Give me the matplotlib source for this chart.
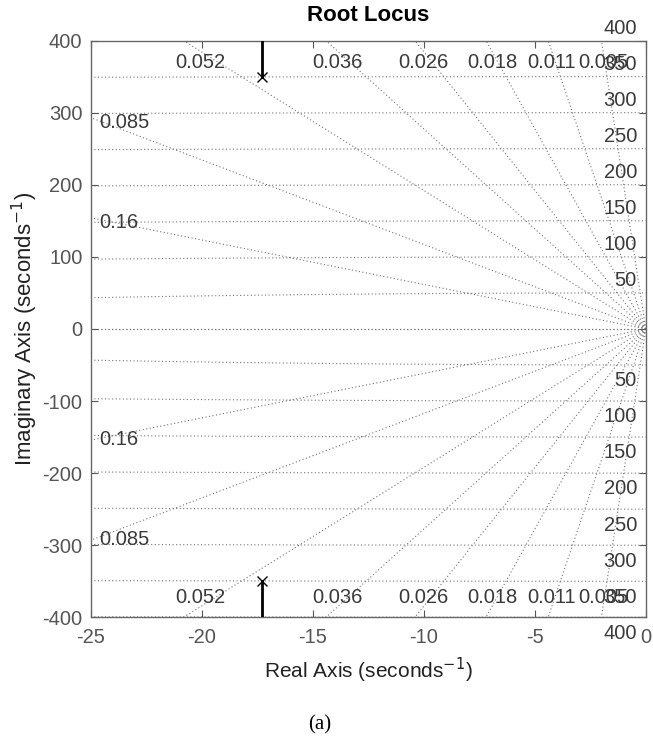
import numpy as np
import matplotlib
matplotlib.use('Agg')
import matplotlib.pyplot as plt

# sgrid values
zeta_vals = [0.005, 0.011, 0.018, 0.026, 0.036, 0.052, 0.085, 0.16]
zeta_labels = ['0.005', '0.011', '0.018', '0.026', '0.036', '0.052', '0.085', '0.16']
wn_vals = [50, 100, 150, 200, 250, 300, 350, 400]

# open-loop poles and the locus branches leaving them
pole_re = [-17.3, -17.3]
pole_im = [350, -350]
branch_re = [[-17.3, -17.3], [-17.3, -17.3]]
branch_im = [[350, 420], [-350, -420]]

x_ticks = [-25, -20, -15, -10, -5, 0]
y_ticks = [-400, -300, -200, -100, 0, 100, 200, 300, 400]

plt.rcParams['font.family'] = ['Liberation Sans', 'DejaVu Sans']
plt.rcParams['axes.unicode_minus'] = False

fig = plt.figure(figsize=(6.53, 7.51), dpi=100)
ax = fig.add_axes([0.139, 0.178, 0.850, 0.768])

grid_kw = dict(color='0.45', linestyle=(0, (1, 2.2)), linewidth=0.8, zorder=1)
lab_col = '#3a3a3a'
fs = 14.5

# damping ratio rays
R = 1000
for z in zeta_vals + [1.0]:
    xr = -R * z
    yr = R * np.sqrt(1 - z ** 2)
    ax.plot([0, xr], [0, yr], **grid_kw)
    ax.plot([0, xr], [0, -yr], **grid_kw)

# natural frequency circles
xs = np.linspace(-25, 0, 400)
for w in wn_vals:
    yc = np.sqrt(w ** 2 - xs ** 2)
    ax.plot(xs, yc, **grid_kw)
    ax.plot(xs, -yc, **grid_kw)

# zeta labels
for z, lab in zip(zeta_vals, zeta_labels):
    if z < 0.08:
        xl = -385 * z / np.sqrt(1 - z ** 2)
        ax.text(xl, 369, lab, ha='center', va='center', fontsize=fs, color=lab_col, zorder=3)
        ax.text(xl, -373, lab, ha='center', va='center', fontsize=fs, color=lab_col, zorder=3)
    else:
        yl = 286 if z < 0.1 else 148
        ax.text(-24.6, yl, lab, ha='left', va='center', fontsize=fs, color=lab_col, zorder=3)
        ax.text(-24.6, -yl - 6, lab, ha='left', va='center', fontsize=fs, color=lab_col, zorder=3)

# wn labels
for w in wn_vals:
    ax.text(-0.4, w + 17, str(w), ha='right', va='center', fontsize=fs,
            color=lab_col, zorder=3, clip_on=False)
    ax.text(-0.4, -w - 22, str(w), ha='right', va='center', fontsize=fs,
            color=lab_col, zorder=3, clip_on=False)

# root locus
for bx, by in zip(branch_re, branch_im):
    ax.plot(bx, by, color='black', linewidth=2, zorder=4)
ax.plot(pole_re, pole_im, linestyle='none', marker='x', color='black',
        markersize=7, markeredgewidth=1, zorder=5)

ax.set_xlim(-25, 0)
ax.set_ylim(-400, 400)
ax.set_xticks(x_ticks)
ax.set_yticks(y_ticks)
ax.tick_params(direction='in', top=True, right=True, length=5, width=0.8,
               color='#555555', labelcolor='#555555', labelsize=14.5)
ax.tick_params(axis='x', pad=8)
ax.tick_params(axis='y', pad=6)
for s in ax.spines.values():
    s.set_color('#666666')
    s.set_linewidth(1)

ax.set_title('Root Locus', fontsize=16, fontweight='bold', pad=14)
ax.set_xlabel('Real Axis (seconds$^{-1}$)', fontsize=15, color='#222222', labelpad=6)
ax.set_ylabel('Imaginary Axis (seconds$^{-1}$)', fontsize=16, color='#222222', labelpad=2)

fig.text(0.49, 0.035, '(a)', ha='center', va='center', fontsize=15,
         family=['Liberation Serif', 'DejaVu Serif'])

fig.savefig('out.png', dpi=100)
